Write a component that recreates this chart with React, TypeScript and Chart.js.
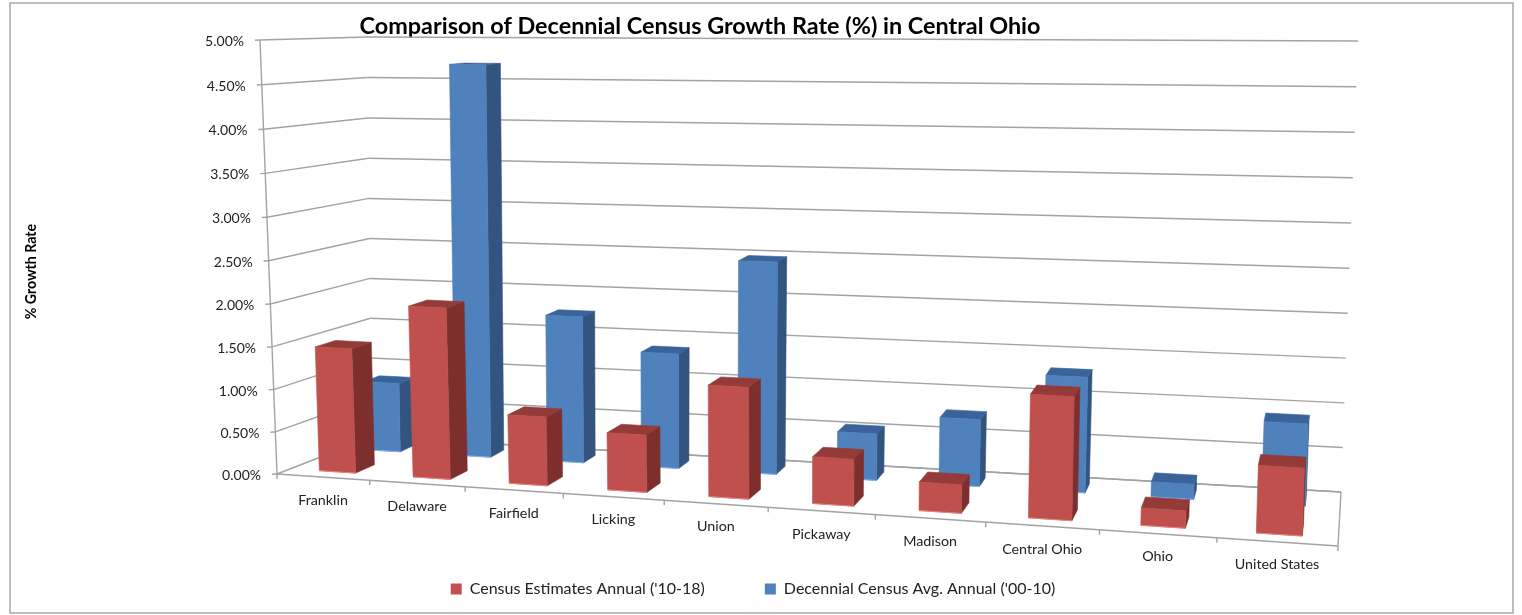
import React, { useEffect, useRef } from "react";
import { Chart, registerables } from "chart.js";

Chart.register(...registerables);

const categories = ["Franklin", "Delaware", "Fairfield", "Licking", "Union", "Pickaway", "Madison", "Central Ohio", "Ohio", "United States"];
const estimatesAnnual = [1.47, 2.0, 0.8, 0.66, 1.27, 0.53, 0.32, 1.36, 0.19, 0.73];
const decennialAnnual = [0.84, 4.7, 1.75, 1.36, 2.48, 0.54, 0.77, 1.31, 0.17, 0.91];
const seriesNames = ["Census Estimates Annual ('10-18)", "Decennial Census Avg. Annual ('00-10)"];
const titleText = "Comparison of Decennial Census Growth Rate (%) in Central Ohio";
const yTitleText = "% Growth Rate";

type Pt = [number, number];
const FONT = "Lato, Carlito, Calibri, sans-serif";
const LINE = "#a3a3a3";

// Corners of the 3D box on the page: f = front, b = back, B = bottom, T = top, L/R = left/right
const fBL: Pt = [277, 474], fBR: Pt = [1338, 546], bBL: Pt = [372, 437], bBR: Pt = [1341, 492];
const fTL: Pt = [260, 40], fTR: Pt = [1355, 61], bTL: Pt = [367, 37], bTR: Pt = [1358, 41];
const AXIS_WARP = 1.16;
const BAR_WARP = 1.14;

const lerp = (a: number, b: number, t: number) => a + (b - a) * t;
const lerpP = (a: Pt, b: Pt, t: number): Pt => [lerp(a[0], b[0], t), lerp(a[1], b[1], t)];
const warp = (t: number, r: number) => t / (t + (1 - t) * r);

function project(u: number, v: number, z: number, zy: number = z, rU: number = AXIS_WARP): Pt {
  const U = warp(u, rU);
  const V = warp(v, lerp(1.035, 1.015, zy));
  const bottom = lerpP(lerpP(fBL, fBR, U), lerpP(bBL, bBR, U), zy);
  const top = lerpP(lerpP(fTL, fTR, U), lerpP(bTL, bTR, U), zy);
  const bottomX = lerpP(lerpP(fBL, fBR, U), lerpP(bBL, bBR, U), z);
  const topX = lerpP(lerpP(fTL, fTR, U), lerpP(bTL, bTR, U), z);
  return [lerp(bottomX[0], topX[0], V), lerp(bottom[1], top[1], V)];
}

function poly(ctx: CanvasRenderingContext2D, pts: Pt[], fill: string) {
  ctx.beginPath();
  pts.forEach((p, i) => (i ? ctx.lineTo(p[0], p[1]) : ctx.moveTo(p[0], p[1])));
  ctx.closePath();
  ctx.fillStyle = fill;
  ctx.fill();
  ctx.strokeStyle = fill;
  ctx.lineWidth = 0.6;
  ctx.stroke();
}

function seg(ctx: CanvasRenderingContext2D, a: Pt, b: Pt) {
  ctx.beginPath();
  ctx.moveTo(a[0], a[1]);
  ctx.lineTo(b[0], b[1]);
  ctx.stroke();
}

const rows = [
  { z0: 0.15, z1: 0.36, y0: 0.14, y1: 0.36, front: "#c0504d", side: "#7d2f2d", top: "#943a38", edge: "#e8807c" },
  { z0: 0.65, z1: 0.81, y0: 0.7, y1: 0.88, front: "#4f81bd", side: "#32547f", top: "#39639a", edge: "#7fb0ea" },
];

const box3d = {
  id: "box3d",
  beforeDraw(chart: any) {
    const { ctx } = chart;
    ctx.save();
    ctx.fillStyle = "#fff";
    ctx.fillRect(0, 0, chart.width, chart.height);
    ctx.strokeStyle = "#a8a8a8";
    ctx.lineWidth = 1.5;
    ctx.strokeRect(10, 3, 1503, 610);
    ctx.restore();
  },
  beforeDatasetsDraw(chart: any) {
    const { ctx, scales } = chart;
    const y = scales.y, x = scales.x;
    ctx.save();
    ctx.strokeStyle = LINE;
    ctx.lineWidth = 1.4;
    const vOf = (val: number) => (y.bottom - y.getPixelForValue(val)) / (y.bottom - y.top);

    // walls
    seg(ctx, project(0, 0, 0), project(0, 1, 0));
    seg(ctx, project(1, 0, 0), project(1, 0, 1));
    seg(ctx, project(1, 0, 1), project(0, 0, 1));
    y.ticks.forEach((t: any) => {
      const v = vOf(t.value);
      const a = project(0, v, 0), b = project(0, v, 1), c = project(1, v, 1);
      seg(ctx, a, b);
      seg(ctx, b, c);
      seg(ctx, [a[0] - 5, a[1] + 0.3], a);
      ctx.fillStyle = "#222";
      ctx.font = `14px ${FONT}`;
      ctx.textAlign = "right";
      ctx.textBaseline = "middle";
      ctx.fillText(t.label, a[0] - 16, a[1] + 1.5);
    });

    // floor front edge, ticks and category labels
    seg(ctx, project(0, 0, 0), project(1, 0, 0));
    const n = categories.length;
    for (let i = 0; i <= n; i++) {
      const p = project(i / n, 0, 0);
      seg(ctx, p, [p[0], p[1] + 5]);
    }
    x.getLabels().forEach((label: string, i: number) => {
      const u = (x.getPixelForValue(i) - x.left) / (x.right - x.left);
      const p = project(u, 0, 0);
      ctx.fillStyle = "#222";
      ctx.font = `14.3px ${FONT}`;
      ctx.textAlign = "center";
      ctx.textBaseline = "middle";
      ctx.fillText(label, p[0], p[1] + 23);
    });
    ctx.restore();
  },
  beforeDatasetDraw(chart: any, args: any) {
    const { ctx, chartArea: ca } = chart;
    const row = rows[args.index];
    const meta = args.meta;
    ctx.save();
    meta.data.forEach((el: any) => {
      const u0 = (el.x - el.width / 2 - ca.left) / ca.width;
      const u1 = (el.x + el.width / 2 - ca.left) / ca.width;
      const v = (ca.bottom - el.y) / ca.height;
      const fbl = project(u0, 0, row.z0, row.y0, BAR_WARP), fbr = project(u1, 0, row.z0, row.y0, BAR_WARP);
      const ftl = project(u0, v, row.z0, row.y0, BAR_WARP), ftr = project(u1, v, row.z0, row.y0, BAR_WARP);
      const bbr = project(u1, 0, row.z1, row.y1, BAR_WARP);
      const btl = project(u0, v, row.z1, row.y1, BAR_WARP), btr = project(u1, v, row.z1, row.y1, BAR_WARP);
      poly(ctx, [fbr, bbr, btr, ftr], row.side);
      poly(ctx, [ftl, ftr, btr, btl], row.top);
      poly(ctx, [fbl, fbr, ftr, ftl], row.front);
      ctx.strokeStyle = row.edge;
      ctx.lineWidth = 1;
      seg(ctx, fbl, fbr);
    });
    ctx.restore();
    return false;
  },
};

export default function App() {
  const ref = useRef<HTMLCanvasElement>(null);
  useEffect(() => {
    const chart = new Chart(ref.current!, {
      type: "bar",
      data: {
        labels: categories,
        datasets: [
          { label: seriesNames[0], data: estimatesAnnual, backgroundColor: "#c0504d", borderWidth: 0 },
          { label: seriesNames[1], data: decennialAnnual, backgroundColor: "#4f81bd", borderWidth: 0 },
        ],
      },
      options: {
        responsive: false,
        animation: false,
        devicePixelRatio: 1,
        datasets: { bar: { grouped: false, barPercentage: 0.39, categoryPercentage: 1 } },
        layout: { padding: { top: 12, left: 21, right: 37, bottom: 8 } },
        plugins: {
          tooltip: { enabled: false },
          title: {
            display: true,
            text: titleText,
            fullSize: false,
            color: "#000",
            font: { family: FONT, size: 23.4, weight: "bold" },
            padding: { top: 0, bottom: 4 },
          },
          legend: {
            position: "bottom",
            labels: {
              boxWidth: 11,
              boxHeight: 11,
              padding: 60,
              color: "#222",
              font: { family: FONT, size: 16 },
            },
          },
        },
        scales: {
          x: {
            type: "category",
            display: true,
            grid: { display: false },
            border: { display: false },
            ticks: { display: false },
            afterFit: (s: any) => {
              s.height = 22;
            },
          },
          y: {
            min: 0,
            max: 5,
            position: "left",
            grid: { display: false },
            border: { display: false },
            ticks: { display: false, stepSize: 0.5, callback: (v: any) => Number(v).toFixed(2) + "%" },
            title: {
              display: true,
              text: yTitleText,
              color: "#000",
              font: { family: FONT, size: 14.2, weight: "bold" },
              padding: 2,
            },
          },
          spacer: {
            type: "linear",
            position: "right",
            display: true,
            grid: { display: false },
            border: { display: false },
            ticks: { display: false },
            afterFit: (s: any) => {
              s.width = 135;
            },
          },
        },
      } as any,
      plugins: [box3d as any],
    });
    return () => chart.destroy();
  }, []);
  return (
    <div style={{ position: "fixed", left: 0, top: 0, width: 1522, height: 615 }}>
      <canvas ref={ref} width={1522} height={615} style={{ display: "block" }} />
    </div>
  );
}
